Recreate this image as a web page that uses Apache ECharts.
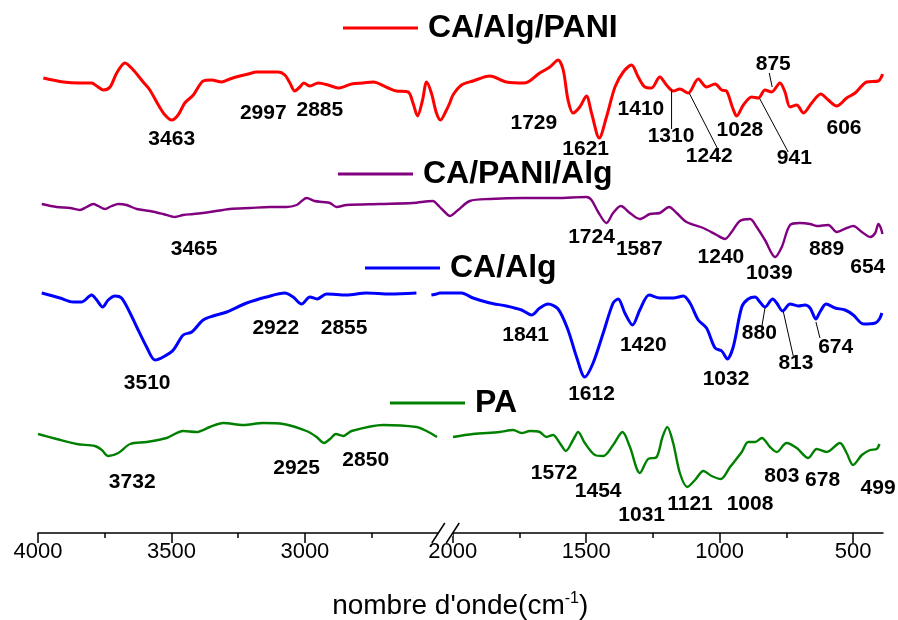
<!DOCTYPE html>
<html><head><meta charset="utf-8">
<script src="https://cdn.jsdelivr.net/npm/echarts@6.0.0/dist/echarts.min.js"></script>
<style>html,body{margin:0;padding:0;background:#fff}#c{width:898px;height:620px}</style>
</head><body><div id="c"></div><script>
// wavenumber (cm-1), transmittance (a.u., offset per spectrum)
const caAlgPani = [[3980,455],[3905,451],[3843,450],[3799,450],[3780,447],[3755,443],[3730,446],[3705,460],[3674,470],[3643,463],[3606,451],[3581,443],[3549,428],[3524,418],[3499,413],[3475,418],[3450,430],[3418,438],[3381,452],[3350,453],[3312,451],[3281,454],[3244,457],[3212,459],[3181,461],[3144,461],[3100,461],[3075,458],[3056,450],[3038,442],[3019,446],[3004,450],[2981,447],[2950,450],[2913,448],[2875,445],[2825,449],[2782,450],[2744,451],[2688,445],[2657,442],[2613,441],[2595,430],[2578,417],[2559,433],[2544,451],[2526,440],[2507,420],[2424,413],[2217,423],[2103,430],[1999,438],[1967,448],[1924,452],[1861,457],[1799,451],[1730,450],[1674,460],[1636,466],[1605,473],[1586,463],[1568,433],[1549,420],[1524,426],[1499,437],[1480,420],[1451,395],[1424,416],[1392,446],[1361,461],[1330,468],[1305,456],[1280,446],[1255,445],[1224,456],[1199,448],[1174,442],[1149,444],[1118,440],[1080,454],[1049,446],[1017,449],[992,443],[974,442],[951,425],[936,417],[911,428],[880,436],[855,435],[830,443],[805,441],[774,450],[755,441],[736,426],[711,428],[686,420],[655,430],[621,439],[593,433],[561,427],[524,435],[492,440],[449,451],[405,452],[392,457],[390,459]];
const caPaniAlg = [[3986,329],[3930,326],[3880,325],[3843,323],[3818,326],[3793,329],[3774,327],[3749,324],[3724,327],[3699,329],[3668,328],[3630,324],[3581,322],[3531,319],[3487,316],[3456,318],[3418,319],[3356,321],[3281,324],[3206,325],[3131,326],[3069,326],[3031,328],[3012,332],[2994,335],[2963,332],[2932,331],[2906,330],[2881,326],[2844,328],[2719,329],[2595,330],[2520,332],[2502,328],[2448,326],[2276,321],[2093,317],[1980,323],[1936,332],[1861,334],[1736,335],[1611,335],[1499,336],[1480,333],[1455,321],[1424,310],[1399,320],[1370,327],[1336,320],[1299,314],[1261,319],[1224,320],[1189,326],[1161,320],[1124,311],[1061,305],[1011,298],[980,294],[955,301],[924,312],[886,314],[861,306],[830,293],[792,276],[767,286],[736,308],[699,310],[661,309],[636,307],[593,308],[561,301],[524,305],[499,307],[467,301],[436,296],[417,300],[405,309],[396,305],[390,299]];
const caAlg = [[3986,240],[3918,235],[3868,231],[3836,231],[3799,238],[3780,233],[3758,226],[3737,233],[3712,237],[3687,235],[3655,220],[3630,206],[3593,186],[3562,173],[3531,176],[3493,183],[3456,198],[3424,201],[3381,213],[3344,217],[3293,221],[3218,230],[3144,236],[3075,240],[3044,236],[3012,229],[2981,236],[2954,234],[2919,239],[2844,238],[2769,240],[2682,239],[2582,240],[2555,'-'],[2526,238],[2507,239],[2448,240],[2241,240],[2000,240],[1967,240],[1924,235],[1861,230],[1799,227],[1742,223],[1705,218],[1674,225],[1643,229],[1605,224],[1568,203],[1536,176],[1505,156],[1474,170],[1436,200],[1399,230],[1380,234],[1355,220],[1326,208],[1299,223],[1264,238],[1224,235],[1174,235],[1136,237],[1111,230],[1080,213],[1049,205],[1017,185],[992,182],[971,174],[949,186],[917,226],[893,234],[867,236],[849,231],[830,226],[801,234],[786,230],[764,222],[736,229],[705,227],[680,228],[661,225],[639,214],[624,221],[601,229],[567,225],[530,223],[499,218],[461,209],[417,210],[401,214],[392,220]];
const pa = [[4000,99],[3930,94],[3855,89],[3787,87],[3761,83],[3737,77],[3699,80],[3655,89],[3593,91],[3518,95],[3456,102],[3406,101],[3356,106],[3306,110],[3231,108],[3156,110],[3081,109],[2994,102],[2956,96],[2928,90],[2906,94],[2884,99],[2857,97],[2825,102],[2707,108],[2582,106],[2544,102],[2505,96],[2250,'-'],[1999,96],[1924,99],[1824,101],[1774,103],[1742,100],[1711,102],[1674,101],[1649,96],[1624,98],[1599,90],[1576,82],[1549,93],[1530,101],[1505,90],[1467,78],[1436,77],[1399,88],[1364,101],[1336,86],[1299,60],[1268,74],[1236,76],[1214,96],[1196,106],[1174,90],[1149,60],[1121,46],[1092,53],[1061,62],[1030,57],[996,54],[961,66],[917,81],[893,91],[867,91],[842,95],[811,86],[786,81],[749,90],[711,85],[668,75],[636,84],[599,81],[549,90],[524,80],[500,68],[467,78],[436,83],[411,84],[401,89]];

const peaksCaAlgPani = [[3499,394,'3463'],[3156,420,'2997'],[2944,423,'2885'],[1696,410,'1729'],[1502,384,'1621'],[1295,424,'1410'],[1182,397,'1310'],[1039,377,'1242'],[924,403,'1028'],[720,375,'941'],[799,469,'875'],[534,405,'606']];
const peaksCaPaniAlg = [[3415,284,'3465'],[1480,296,'1724'],[1301,284,'1587'],[995,276,'1240'],[814,260,'1039'],[599,284,'889'],[445,266,'654']];
const peaksCaAlg = [[3591,150,'3510'],[3109,205,'2922'],[2853,205,'2855'],[1727,198,'1841'],[1480,139,'1612'],[1286,188,'1420'],[976,154,'1032'],[851,200,'880'],[714,170,'813'],[565,186,'674']];
const peaksPa = [[3647,51,'3732'],[3031,65,'2925'],[2772,73,'2850'],[1620,60,'1572'],[1455,42,'1454'],[1292,18,'1031'],[1111,29,'1121'],[886,29,'1008'],[767,57,'803'],[614,53,'678'],[406,45,'499']];
const leaders = [[[1180,444],[1180,404]],[[1114,440],[1005,383]],[[851,435],[743,381]],[[814,460],[803,446]],[[830,225],[842,206]],[[761,221],[724,177]],[[639,211],[624,195]]];

const majorTicks = [4000,3500,3000,2000,1500,1000,500];
const minorTicks = [3750,3250,2750,1750,1250,750];
const axisBreak = {start:2000, end:2500};

const FONT = "'Liberation Sans', Arial, sans-serif";
const names = ['CA/Alg/PANI','CA/PANI/Alg','CA/Alg','PA'];
const colors = ['#ff0000','#800080','#0000ff','#008000'];
const widths = [3,2.4,3,2.4];
const spectra = [caAlgPani, caPaniAlg, caAlg, pa];
const peaks = [peaksCaAlgPani, peaksCaPaniAlg, peaksCaAlg, peaksPa];
const legendPos = [[343,10],[338,156],[365,250],[390,385]];

const chart = echarts.init(document.getElementById('c'), null, {renderer:'canvas'});
const brk = [{start:axisBreak.start, end:axisBreak.end, gap:54}];
const baseX = {type:'value', inverse:true, min:390, max:4000, gridIndex:0, position:'bottom', breaks:brk,
  breakArea:{show:false}, splitLine:{show:false}};
const series = [];
spectra.forEach((d,i)=>series.push({name:names[i], type:'line', data:d, smooth:0.3, symbol:'none',
  connectNulls:false, lineStyle:{color:colors[i], width:widths[i]}, itemStyle:{color:colors[i]}, z:3}));
series.push({name:'leaders', type:'line', symbol:'none', data:leaders.flatMap(l=>[l[0],l[1],[l[1][0],'-']]),
  connectNulls:false, lineStyle:{color:'#000', width:1}, z:4, silent:true});
peaks.forEach((p,i)=>series.push({name:'peaks'+i, type:'scatter', data:p, symbolSize:0, silent:true,
  itemStyle:{color:'#000'}, z:5,
  label:{show:true, position:[0,0], align:'center', verticalAlign:'middle', formatter:q=>q.data[2],
    fontFamily:FONT, fontSize:21, fontWeight:'bold', color:'#000', opacity:1, textBorderWidth:0}}));

chart.setOption({
  animation:false,
  grid:{left:38, right:15.6, top:0, bottom:87, containLabel:false, outerBoundsMode:'none'},
  xAxis:[
    Object.assign({}, baseX, {
      axisLine:{show:true, lineStyle:{color:'#000', width:1.5}},
      axisTick:{show:true, length:10, inside:false, customValues:majorTicks, lineStyle:{color:'#000', width:1.5}},
      axisLabel:{show:true, customValues:majorTicks, formatter:v=>String(v), fontFamily:FONT, fontSize:22, color:'#000', margin:8},
      name:"nombre d'onde(cm{sup|-1})", nameLocation:'middle', nameGap:58,
      nameTextStyle:{fontFamily:FONT, fontSize:28, color:'#000', rich:{sup:{fontFamily:FONT, fontSize:16, color:'#000', verticalAlign:'top', padding:[0,0,14,0]}}}
    }),
    Object.assign({}, baseX, {
      axisLine:{show:false},
      axisTick:{show:true, length:5, customValues:minorTicks, lineStyle:{color:'#000', width:1.5}},
      axisLabel:{show:false}
    })
  ],
  yAxis:{type:'value', min:0, max:533, show:false},
  legend: names.map((n,i)=>({data:[n], left:legendPos[i][0], top:legendPos[i][1], padding:0, itemWidth:75, itemHeight:3,
    icon:'rect', itemStyle:{color:colors[i]}, selectedMode:false,
    textStyle:{fontFamily:FONT, fontSize:32, fontWeight:'bold', color:'#000', lineHeight:36, padding:[0,0,0,5]}})),
  series:series
});

const pA = chart.convertToPixel({xAxisIndex:0}, axisBreak.end);
const pB = chart.convertToPixel({xAxisIndex:0}, axisBreak.start);
const yAx = chart.convertToPixel({yAxisIndex:0}, 0);
chart.setOption({graphic:[
  {type:'rect', shape:{x:pA, y:yAx-3, width:pB-pA, height:6}, style:{fill:'#fff'}, z:50},
  {type:'line', shape:{x1:pA-6.5, y1:yAx+10, x2:pA+6.5, y2:yAx-10}, style:{stroke:'#000', lineWidth:1.5}, z:51},
  {type:'line', shape:{x1:pB-6.5, y1:yAx+10, x2:pB+6.5, y2:yAx-10}, style:{stroke:'#000', lineWidth:1.5}, z:51}
]});
</script></body></html>
